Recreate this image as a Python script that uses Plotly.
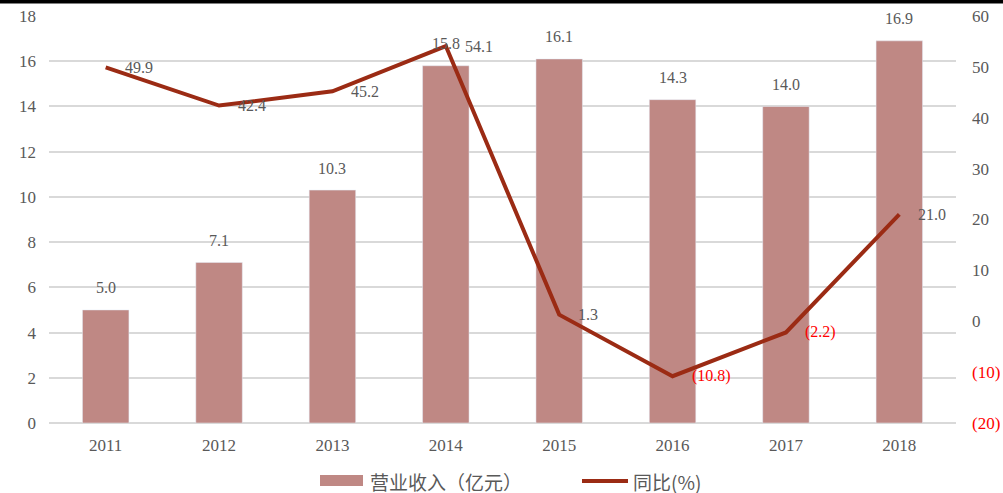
import plotly.graph_objects as go

years = ["2011", "2012", "2013", "2014", "2015", "2016", "2017", "2018"]
revenue = [5.0, 7.1, 10.3, 15.8, 16.1, 14.3, 14.0, 16.9]
yoy = [49.9, 42.4, 45.2, 54.1, 1.3, -10.8, -2.2, 21.0]
left_ticks = [0, 2, 4, 6, 8, 10, 12, 14, 16, 18]
right_ticks = [-20, -10, 0, 10, 20, 30, 40, 50, 60]
bar_name = "营业收入（亿元）"
line_name = "同比(%)"

BAR = "#BF8884"
LINE = "#9B2B14"
GREY = "#595959"
RED = "#FF0000"
FONT = "Liberation Serif"
CJK = "Noto Sans CJK SC"

W, H = 1003, 493
ML, MR, MT, MB = 49, 47, 16, 70
PW, PH = W - ML - MR, H - MT - MB

def px(x):
    return (x - ML) / PW

def py(y):
    return (H - MB - y) / PH

def fmt(v):
    return f"({abs(v):.1f})" if v < 0 else f"{v:.1f}"

def fmt_tick(v):
    return f'<span style="color:{RED}">({abs(v)})</span>' if v < 0 else str(v)

fig = go.Figure()
fig.add_trace(go.Bar(
    x=years, y=revenue, name=bar_name, marker_color=BAR,
    yaxis="y", hoverinfo="skip", showlegend=False,
))
fig.add_trace(go.Scatter(
    x=years, y=yoy, name=line_name, mode="lines", yaxis="y2",
    line=dict(color=LINE, width=4), showlegend=False,
))

# bar value labels (category axis: annotation x is the category index)
for i, v in enumerate(revenue):
    fig.add_annotation(x=i, y=v, xref="x", yref="y", text=f"{v:.1f}", showarrow=False,
                       yshift=22, font=dict(family=FONT, size=16, color=GREY))

# line value labels, to the right of each point
for i, v in enumerate(yoy):
    fig.add_annotation(x=i, y=v, xref="x", yref="y2", text=fmt(v), showarrow=False,
                       xanchor="left", yanchor="middle", xshift=17,
                       font=dict(family=FONT, size=16, color=RED if v < 0 else GREY))

# black strip at the very top
fig.add_shape(type="rect", xref="paper", yref="paper", x0=px(-5), x1=px(W + 5),
              y0=py(3.5), y1=py(-2), fillcolor="black", line_width=0, layer="above")

# custom legend
fig.add_shape(type="rect", xref="paper", yref="paper", x0=px(320), x1=px(363),
              y0=py(486), y1=py(475), fillcolor=BAR, line_width=0)
fig.add_annotation(xref="paper", yref="paper", x=px(368), y=py(481), xanchor="left",
                   yanchor="middle", text=bar_name, showarrow=False,
                   font=dict(family=CJK, size=19, color=GREY))
fig.add_shape(type="line", xref="paper", yref="paper", x0=px(582), x1=px(628),
              y0=py(481), y1=py(481), line=dict(color=LINE, width=4))
fig.add_annotation(xref="paper", yref="paper", x=px(631), y=py(481), xanchor="left",
                   yanchor="middle", text=line_name, showarrow=False,
                   font=dict(family=CJK, size=19, color=GREY))

fig.update_layout(
    width=W, height=H,
    margin=dict(l=ML, r=MR, t=MT, b=MB, autoexpand=False),
    paper_bgcolor="white", plot_bgcolor="white",
    font=dict(family=FONT, size=16, color=GREY),
    bargap=0.59,
    showlegend=False,
    xaxis=dict(type="category", categoryorder="array", categoryarray=years,
               range=[-0.5, len(years) - 0.5], automargin=False,
               showgrid=False, showline=False, ticks="",
               tickfont=dict(family=FONT, size=17, color=GREY), ticklabelstandoff=10),
    yaxis=dict(range=[0, 18], tickvals=left_ticks, showgrid=True, gridcolor="#D9D9D9",
               gridwidth=1.5, zeroline=True, zerolinecolor="#D9D9D9", zerolinewidth=1.5,
               automargin=False,
               ticks="", ticklabelstandoff=12, tickfont=dict(family=FONT, size=17, color=GREY)),
    yaxis2=dict(range=[-20, 60], overlaying="y", side="right", tickvals=right_ticks,
                ticktext=[fmt_tick(v) for v in right_ticks], showgrid=False, zeroline=False,
                automargin=False,
                ticks="", ticklabelstandoff=15, tickfont=dict(family=FONT, size=17, color=GREY)),
)

fig.write_html("out.html", config={"displayModeBar": False},
               post_script="document.body.style.margin='0';")
